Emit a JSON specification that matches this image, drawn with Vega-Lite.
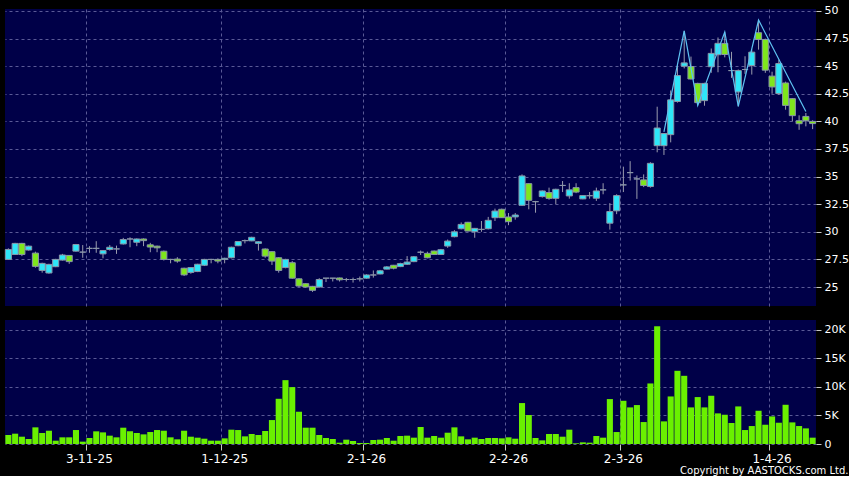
{
"$schema": "https://vega.github.io/schema/vega-lite/v6.json",
"background": "#000000",
"padding": {"top": 4, "left": 4, "right": 0, "bottom": 0},
"spacing": 14,
"config": {
  "view": {"fill": "#000048", "stroke": null},
  "axis": {"labelColor": "#ffffff", "labelFont": "DejaVu Sans", "domain": false, "tickColor": "#c8c8c8", "gridColor": "#5a5a96", "gridDash": [3, 3], "gridWidth": 1, "title": null, "labelOverlap": false}
},
"title": {"text": "Copyright by AASTOCKS.com Ltd.", "orient": "bottom", "anchor": "end", "color": "#ffffff", "fontSize": 10, "font": "DejaVu Sans", "fontWeight": "normal", "offset": 2},
"datasets": {
"px": [
{"d":"2025-10-15","o":27.5,"h":28.5,"l":27.45,"c":28.4,"v":1580},
{"d":"2025-10-16","o":27.95,"h":29.0,"l":27.9,"c":28.95,"v":1810},
{"d":"2025-10-17","o":28.95,"h":29.0,"l":27.8,"c":27.95,"v":1280},
{"d":"2025-10-20","o":28.35,"h":28.75,"l":28.3,"c":28.7,"v":880},
{"d":"2025-10-21","o":28.07,"h":28.2,"l":26.75,"c":26.87,"v":2920},
{"d":"2025-10-22","o":26.5,"h":27.2,"l":26.3,"c":27.14,"v":1930},
{"d":"2025-10-23","o":26.27,"h":27.1,"l":26.2,"c":27.05,"v":2330},
{"d":"2025-10-24","o":26.84,"h":27.55,"l":26.8,"c":27.5,"v":580},
{"d":"2025-10-27","o":27.44,"h":28.0,"l":27.4,"c":27.9,"v":1170},
{"d":"2025-10-28","o":27.86,"h":27.9,"l":27.1,"c":27.3,"v":1170},
{"d":"2025-10-30","o":28.25,"h":28.9,"l":28.2,"c":28.85,"v":2450},
{"d":"2025-10-31","o":28.16,"h":28.8,"l":27.65,"c":28.16,"v":410},
{"d":"2025-11-03","o":28.5,"h":28.7,"l":28.1,"c":28.5,"v":1050},
{"d":"2025-11-04","o":28.5,"h":29.15,"l":28.1,"c":28.5,"v":2220},
{"d":"2025-11-05","o":28.0,"h":28.35,"l":27.6,"c":28.3,"v":2040},
{"d":"2025-11-06","o":28.4,"h":28.8,"l":28.3,"c":28.6,"v":1460},
{"d":"2025-11-07","o":28.45,"h":28.75,"l":28.0,"c":28.45,"v":1170},
{"d":"2025-11-10","o":28.9,"h":29.45,"l":28.85,"c":29.3,"v":2860},
{"d":"2025-11-11","o":29.35,"h":29.5,"l":28.6,"c":29.35,"v":2220},
{"d":"2025-11-12","o":29.05,"h":29.4,"l":28.7,"c":29.35,"v":1930},
{"d":"2025-11-13","o":29.35,"h":29.4,"l":28.7,"c":29.2,"v":1690},
{"d":"2025-11-14","o":28.82,"h":29.0,"l":28.15,"c":28.62,"v":2100},
{"d":"2025-11-17","o":28.7,"h":28.75,"l":28.15,"c":28.55,"v":2450},
{"d":"2025-11-18","o":28.24,"h":28.3,"l":27.4,"c":27.5,"v":2330},
{"d":"2025-11-19","o":27.5,"h":27.55,"l":27.15,"c":27.5,"v":1170},
{"d":"2025-11-20","o":27.53,"h":27.7,"l":27.2,"c":27.35,"v":820},
{"d":"2025-11-21","o":26.7,"h":26.75,"l":26.0,"c":26.1,"v":2330},
{"d":"2025-11-24","o":26.32,"h":26.8,"l":26.2,"c":26.76,"v":1280},
{"d":"2025-11-25","o":26.4,"h":27.1,"l":26.35,"c":27.06,"v":1110},
{"d":"2025-11-26","o":26.97,"h":27.55,"l":26.9,"c":27.5,"v":930},
{"d":"2025-11-27","o":27.5,"h":27.55,"l":27.15,"c":27.5,"v":580},
{"d":"2025-11-28","o":27.5,"h":27.6,"l":27.15,"c":27.35,"v":580},
{"d":"2025-12-01","o":27.5,"h":27.65,"l":27.15,"c":27.6,"v":990},
{"d":"2025-12-02","o":27.65,"h":28.65,"l":27.6,"c":28.6,"v":2510},
{"d":"2025-12-03","o":28.74,"h":29.15,"l":28.7,"c":29.12,"v":2450},
{"d":"2025-12-04","o":29.2,"h":29.3,"l":28.95,"c":29.2,"v":1340},
{"d":"2025-12-05","o":29.18,"h":29.55,"l":29.15,"c":29.5,"v":1750},
{"d":"2025-12-08","o":28.95,"h":29.15,"l":28.3,"c":29.1,"v":1580},
{"d":"2025-12-09","o":28.44,"h":28.5,"l":27.65,"c":27.8,"v":2280},
{"d":"2025-12-10","o":28.2,"h":28.25,"l":27.0,"c":27.35,"v":4200},
{"d":"2025-12-11","o":27.65,"h":27.7,"l":26.3,"c":26.5,"v":7930},
{"d":"2025-12-12","o":26.76,"h":27.55,"l":26.7,"c":27.5,"v":11200},
{"d":"2025-12-15","o":27.2,"h":27.35,"l":25.75,"c":25.8,"v":9980},
{"d":"2025-12-16","o":25.74,"h":25.8,"l":25.0,"c":25.09,"v":5660},
{"d":"2025-12-17","o":25.3,"h":25.35,"l":24.95,"c":25.0,"v":2860},
{"d":"2025-12-18","o":25.06,"h":25.1,"l":24.56,"c":24.7,"v":2860},
{"d":"2025-12-19","o":25.0,"h":25.8,"l":24.95,"c":25.68,"v":1580},
{"d":"2025-12-22","o":25.8,"h":25.8,"l":25.45,"c":25.8,"v":1050},
{"d":"2025-12-23","o":25.8,"h":25.8,"l":25.5,"c":25.8,"v":880},
{"d":"2025-12-24","o":25.82,"h":25.85,"l":25.5,"c":25.65,"v":230},
{"d":"2025-12-29","o":25.68,"h":25.82,"l":25.5,"c":25.68,"v":760},
{"d":"2025-12-30","o":25.68,"h":25.85,"l":25.4,"c":25.68,"v":530},
{"d":"2025-12-31","o":25.74,"h":25.95,"l":25.5,"c":25.74,"v":180},
{"d":"2026-01-02","o":25.8,"h":26.15,"l":25.75,"c":26.09,"v":180},
{"d":"2026-01-05","o":26.09,"h":26.5,"l":25.85,"c":26.09,"v":700},
{"d":"2026-01-06","o":26.18,"h":26.55,"l":26.15,"c":26.47,"v":760},
{"d":"2026-01-07","o":26.62,"h":26.9,"l":26.6,"c":26.82,"v":1050},
{"d":"2026-01-08","o":26.97,"h":27.0,"l":26.6,"c":26.7,"v":580},
{"d":"2026-01-09","o":26.85,"h":27.2,"l":26.8,"c":27.12,"v":1400},
{"d":"2026-01-12","o":27.06,"h":27.8,"l":27.0,"c":27.26,"v":1460},
{"d":"2026-01-13","o":27.3,"h":27.8,"l":27.25,"c":27.74,"v":1110},
{"d":"2026-01-14","o":28.15,"h":28.3,"l":27.9,"c":28.15,"v":2980},
{"d":"2026-01-15","o":28.05,"h":28.2,"l":27.6,"c":27.65,"v":1110},
{"d":"2026-01-16","o":28.26,"h":28.3,"l":27.9,"c":27.95,"v":1400},
{"d":"2026-01-19","o":27.95,"h":28.45,"l":27.9,"c":28.38,"v":1110},
{"d":"2026-01-20","o":28.71,"h":29.3,"l":28.55,"c":29.16,"v":1980},
{"d":"2026-01-21","o":29.56,"h":30.15,"l":29.5,"c":30.0,"v":2920},
{"d":"2026-01-22","o":30.28,"h":30.85,"l":30.22,"c":30.67,"v":1340},
{"d":"2026-01-23","o":30.86,"h":30.9,"l":30.05,"c":30.07,"v":820},
{"d":"2026-01-26","o":30.01,"h":30.35,"l":29.46,"c":30.31,"v":1110},
{"d":"2026-01-27","o":30.22,"h":30.98,"l":30.0,"c":30.22,"v":880},
{"d":"2026-01-28","o":30.28,"h":31.35,"l":30.22,"c":31.04,"v":1050},
{"d":"2026-01-29","o":31.28,"h":32.1,"l":30.98,"c":31.88,"v":1050},
{"d":"2026-01-30","o":32.04,"h":32.1,"l":31.25,"c":31.28,"v":990},
{"d":"2026-02-02","o":31.34,"h":31.7,"l":30.6,"c":30.92,"v":1170},
{"d":"2026-02-03","o":31.35,"h":31.7,"l":31.1,"c":31.52,"v":930},
{"d":"2026-02-04","o":32.4,"h":35.2,"l":32.35,"c":35.06,"v":7180},
{"d":"2026-02-05","o":34.36,"h":34.4,"l":32.04,"c":32.85,"v":5080},
{"d":"2026-02-06","o":32.73,"h":32.8,"l":31.73,"c":32.73,"v":1050},
{"d":"2026-02-09","o":33.19,"h":33.75,"l":33.1,"c":33.7,"v":640},
{"d":"2026-02-10","o":33.55,"h":34.0,"l":32.9,"c":33.03,"v":1750},
{"d":"2026-02-11","o":33.03,"h":33.9,"l":32.5,"c":33.85,"v":1750},
{"d":"2026-02-12","o":34.2,"h":34.6,"l":33.6,"c":34.2,"v":1280},
{"d":"2026-02-13","o":33.25,"h":34.4,"l":33.0,"c":33.8,"v":2510},
{"d":"2026-02-16","o":34.0,"h":34.4,"l":33.5,"c":33.6,"v":120},
{"d":"2026-02-20","o":32.98,"h":33.3,"l":32.95,"c":33.28,"v":290},
{"d":"2026-02-23","o":33.27,"h":33.6,"l":33.0,"c":33.27,"v":230},
{"d":"2026-02-24","o":33.04,"h":34.0,"l":32.8,"c":33.7,"v":1400},
{"d":"2026-02-25","o":33.8,"h":34.4,"l":33.4,"c":33.8,"v":1110},
{"d":"2026-02-26","o":30.78,"h":32.6,"l":30.2,"c":31.84,"v":7880},
{"d":"2026-02-27","o":31.9,"h":33.4,"l":31.6,"c":33.28,"v":2100},
{"d":"2026-03-02","o":34.25,"h":35.9,"l":33.6,"c":34.25,"v":7580},
{"d":"2026-03-03","o":35.36,"h":36.4,"l":34.64,"c":35.36,"v":6420},
{"d":"2026-03-04","o":34.79,"h":35.1,"l":32.98,"c":34.79,"v":6830},
{"d":"2026-03-05","o":34.7,"h":35.2,"l":34.05,"c":34.19,"v":3850},
{"d":"2026-03-06","o":34.1,"h":36.3,"l":34.0,"c":36.2,"v":10620},
{"d":"2026-03-09","o":37.8,"h":41.33,"l":37.2,"c":39.4,"v":20650},
{"d":"2026-03-10","o":37.8,"h":38.95,"l":36.96,"c":38.9,"v":3970},
{"d":"2026-03-11","o":38.8,"h":42.8,"l":38.1,"c":41.95,"v":8340},
{"d":"2026-03-12","o":41.8,"h":45.1,"l":41.7,"c":44.15,"v":12840},
{"d":"2026-03-13","o":45.0,"h":48.2,"l":44.8,"c":45.3,"v":11960},
{"d":"2026-03-16","o":44.97,"h":45.87,"l":43.8,"c":43.84,"v":6420},
{"d":"2026-03-17","o":43.44,"h":43.5,"l":41.45,"c":41.7,"v":8230},
{"d":"2026-03-18","o":41.88,"h":43.5,"l":41.42,"c":43.44,"v":6420},
{"d":"2026-03-19","o":44.95,"h":46.6,"l":44.4,"c":46.16,"v":8460},
{"d":"2026-03-20","o":46.04,"h":47.6,"l":44.45,"c":47.07,"v":5370},
{"d":"2026-03-23","o":47.06,"h":48.1,"l":45.8,"c":46.06,"v":5130},
{"d":"2026-03-24","o":44.6,"h":46.3,"l":43.94,"c":44.6,"v":3680},
{"d":"2026-03-25","o":42.67,"h":44.7,"l":41.36,"c":44.6,"v":6590},
{"d":"2026-03-26","o":44.7,"h":45.9,"l":44.3,"c":44.7,"v":2450},
{"d":"2026-03-27","o":45.06,"h":46.5,"l":44.24,"c":46.27,"v":3150},
{"d":"2026-03-30","o":48.03,"h":49.18,"l":46.5,"c":47.42,"v":5830},
{"d":"2026-03-31","o":47.42,"h":47.5,"l":44.4,"c":44.64,"v":3380},
{"d":"2026-04-01","o":44.1,"h":44.5,"l":42.5,"c":43.12,"v":4840},
{"d":"2026-04-02","o":42.52,"h":45.6,"l":42.4,"c":45.24,"v":3730},
{"d":"2026-04-08","o":43.48,"h":43.6,"l":41.06,"c":41.45,"v":6880},
{"d":"2026-04-09","o":42.06,"h":42.1,"l":40.0,"c":40.52,"v":3790},
{"d":"2026-04-10","o":40.06,"h":40.55,"l":39.24,"c":39.79,"v":3150},
{"d":"2026-04-13","o":40.45,"h":40.76,"l":39.55,"c":40.06,"v":2740},
{"d":"2026-04-14","o":40.0,"h":40.1,"l":39.3,"c":39.8,"v":1110}
],
"zz": [
{"d":"2026-03-10","z":39.05},
{"d":"2026-03-13","z":48.2},
{"d":"2026-03-17","z":41.45},
{"d":"2026-03-23","z":48.1},
{"d":"2026-03-25","z":41.36},
{"d":"2026-03-30","z":49.18},
{"d":"2026-04-13","z":40.9}
]
},
"vconcat": [
{
  "width": 811,
  "height": 297,
  "encoding": {
    "x": {"field": "d", "type": "ordinal", "scale": {"paddingInner": 0.1, "paddingOuter": 0.05},
      "axis": {"values": ["2025-11-03","2025-12-01","2026-01-02","2026-02-02","2026-03-02","2026-04-01"], "bandPosition": 0, "labels": false, "ticks": false, "grid": true, "title": null}}
  },
  "layer": [
    {
      "data": {"name": "px"},
      "mark": {"type": "rule", "color": "#9a9cae", "strokeWidth": 1},
      "encoding": {
        "y": {"field": "l", "type": "quantitative", "scale": {"domain": [23.28, 50.18], "nice": false, "zero": false},
          "axis": {"orient": "right", "values": [25, 27.5, 30, 32.5, 35, 37.5, 40, 42.5, 45, 47.5, 50], "labelExpr": "replace(format(datum.value, '.1f'), '.0', '')", "labelFontSize": 11, "tickSize": 5, "labelPadding": 3, "grid": true, "title": null, "labelOverlap": false}},
        "y2": {"field": "h"}
      }
    },
    {
      "data": {"name": "px"},
      "mark": {"type": "bar", "stroke": "#8a96a8", "strokeWidth": 1},
      "encoding": {
        "y": {"field": "o", "type": "quantitative", "scale": {"domain": [23.28, 50.18], "nice": false, "zero": false},
          "axis": {"orient": "right", "values": [25, 27.5, 30, 32.5, 35, 37.5, 40, 42.5, 45, 47.5, 50], "labelExpr": "replace(format(datum.value, '.1f'), '.0', '')", "labelFontSize": 11, "tickSize": 5, "labelPadding": 3, "grid": true, "title": null, "labelOverlap": false}},
        "y2": {"field": "c"},
        "color": {"condition": [{"test": "datum.c > datum.o", "value": "#2ee6f8"}, {"test": "datum.c < datum.o", "value": "#7fe61c"}], "value": "#8a96a8"}
      }
    },
    {
      "data": {"name": "zz"},
      "mark": {"type": "line", "color": "#5ec2f2", "strokeWidth": 1.2},
      "encoding": {"y": {"field": "z", "type": "quantitative", "scale": {"domain": [23.28, 50.18], "nice": false, "zero": false},
          "axis": {"orient": "right", "values": [25, 27.5, 30, 32.5, 35, 37.5, 40, 42.5, 45, 47.5, 50], "labelExpr": "replace(format(datum.value, '.1f'), '.0', '')", "labelFontSize": 11, "tickSize": 5, "labelPadding": 3, "grid": true, "title": null, "labelOverlap": false}}}
    }
  ]
},
{
  "width": 811,
  "height": 124,
  "data": {"name": "px"},
  "mark": {"type": "bar", "color": "#6af000"},
  "encoding": {
    "x": {"field": "d", "type": "ordinal", "scale": {"paddingInner": 0.1, "paddingOuter": 0.05},
      "axis": {"values": ["2025-11-03","2025-12-01","2026-01-02","2026-02-02","2026-03-02","2026-04-01"], "bandPosition": 0, "labelExpr": "toNumber(slice(datum.value, 8, 10)) + '-' + toNumber(slice(datum.value, 5, 7)) + '-' + slice(datum.value, 2, 4)", "labelAngle": 0, "labelFontSize": 12, "tickSize": 6, "labelPadding": 3, "grid": true, "title": null}},
    "y": {"field": "v", "type": "quantitative", "scale": {"domain": [0, 21750], "nice": false},
      "axis": {"orient": "right", "values": [0, 5000, 10000, 15000, 20000], "labelExpr": "datum.value == 0 ? '0' : (datum.value / 1000) + 'K'", "labelFontSize": 11, "tickSize": 5, "labelPadding": 3, "grid": true, "title": null}}
  }
}
]
}
